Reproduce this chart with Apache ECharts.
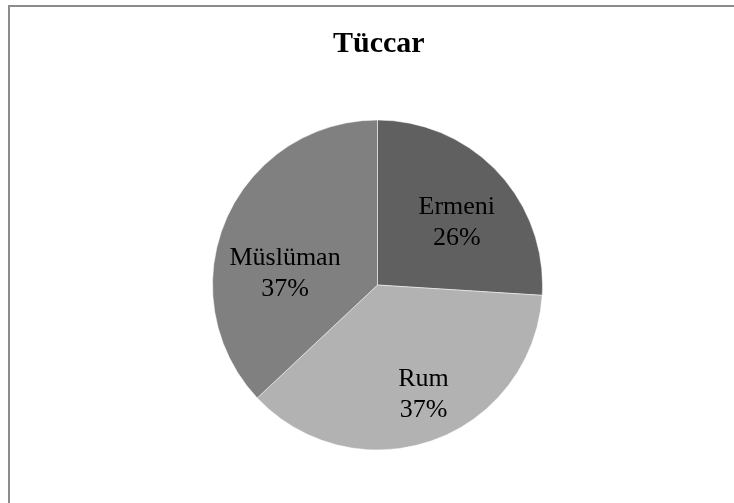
<!DOCTYPE html>
<html>
<head>
<meta charset="utf-8">
<script src="https://cdn.jsdelivr.net/npm/echarts@6/dist/echarts.min.js"></script>
<style>
html,body{margin:0;padding:0;background:#fff;}
#chart{width:734px;height:503px;}
</style>
</head>
<body>
<div id="chart"></div>
<script>
const titleText = 'Tüccar';
const categories = ['Ermeni', 'Rum', 'Müslüman'];
const values = [26, 37, 37];
const sliceColors = ['#606060', '#b2b2b2', '#808080'];
const labelShifts = [[17, -4], [17, 29], [-14, 23]];

const chart = echarts.init(document.getElementById('chart'), null, {renderer: 'canvas'});
chart.setOption({
  backgroundColor: '#ffffff',
  animation: false,
  title: {
    text: titleText,
    left: 328,
    top: 24,
    textStyle: {fontFamily: 'Liberation Serif', fontWeight: 'bold', fontSize: 30, color: '#000'}
  },
  graphic: [{
    type: 'rect',
    shape: {x: 9, y: 6, width: 780, height: 540},
    style: {fill: 'none', stroke: '#8c8c8c', lineWidth: 2},
    silent: true
  }],
  series: [{
    type: 'pie',
    center: [377.5, 285],
    radius: 165,
    startAngle: 90,
    clockwise: true,
    avoidLabelOverlap: false,
    itemStyle: {borderColor: '#ffffff', borderWidth: 0.5},
    label: {
      show: true,
      position: 'inside',
      formatter: '{b}\n{d}%',
      fontFamily: 'Liberation Serif',
      fontSize: 26,
      lineHeight: 31,
      color: '#000'
    },
    labelLine: {show: false},
    emphasis: {disabled: true},
    labelLayout: function (p) {
      const s = labelShifts[p.dataIndex];
      return {dx: s[0], dy: s[1]};
    },
    data: categories.map((c, i) => ({name: c, value: values[i], itemStyle: {color: sliceColors[i]}}))
  }]
});
</script>
</body>
</html>
